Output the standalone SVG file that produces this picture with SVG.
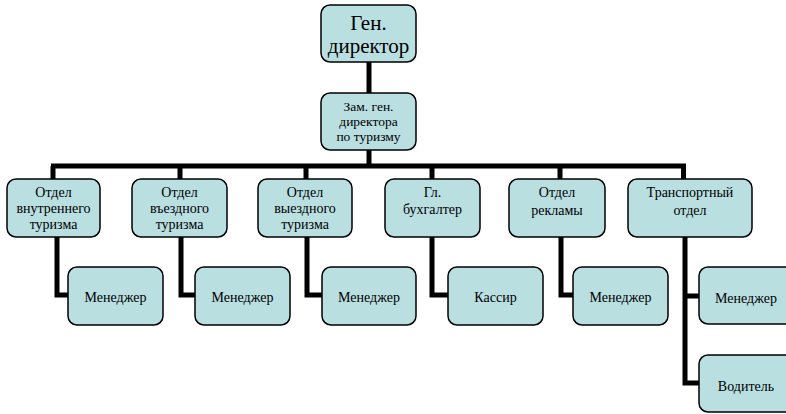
<svg xmlns="http://www.w3.org/2000/svg" width="786" height="414" viewBox="0 0 786 414">
  <defs>
    <style>
      .box { fill: #b9dfe1; stroke: #000; stroke-width: 1.5; }
      .wire { fill: none; stroke: #000; stroke-width: 5; stroke-linejoin: miter; }
      svg text, g text, text.t { font-family: "Liberation Serif", serif !important; fill: #000; text-anchor: middle; }
    </style>
  </defs>
  <rect width="786" height="414" fill="#fff"/>

  <g id="connectors">
    <line class="wire" x1="369" y1="62" x2="369" y2="93"/>
    <line class="wire" x1="369" y1="150" x2="369" y2="166"/>
    <line class="wire" x1="51" y1="166" x2="686" y2="166"/>
    <line class="wire" x1="53" y1="166" x2="53" y2="179"/>
    <line class="wire" x1="180" y1="166" x2="180" y2="179"/>
    <line class="wire" x1="306" y1="166" x2="306" y2="179"/>
    <line class="wire" x1="432" y1="166" x2="432" y2="179"/>
    <line class="wire" x1="560" y1="166" x2="560" y2="179"/>
    <line class="wire" x1="683.5" y1="166" x2="683.5" y2="179"/>
    <path class="wire" d="M57,237 V295 H68"/>
    <path class="wire" d="M181,237 V295 H195"/>
    <path class="wire" d="M307,237 V295 H322"/>
    <path class="wire" d="M432,237 V295 H448"/>
    <path class="wire" d="M561,237 V295 H573"/>
    <path class="wire" d="M685,237 V383 H699 M685,296 H699"/>
  </g>

  <g id="gen-director">
    <rect class="box" x="321" y="5" width="95" height="57" rx="9"/>
    <text class="t" style="font-family:'Liberation Serif',serif !important" font-size="21" x="368.5" y="30">Ген.</text>
    <text class="t" style="font-family:'Liberation Serif',serif !important" font-size="21" x="368.5" y="53">директор</text>
  </g>

  <g id="deputy">
    <rect class="box" x="321" y="93" width="95" height="57" rx="9"/>
    <text class="t" style="font-family:'Liberation Serif',serif !important" font-size="13.5" x="368.5" y="111">Зам. ген.</text>
    <text class="t" style="font-family:'Liberation Serif',serif !important" font-size="13.5" x="368.5" y="126">директора</text>
    <text class="t" style="font-family:'Liberation Serif',serif !important" font-size="13.5" x="368.5" y="141">по туризму</text>
  </g>

  <g id="dept-domestic">
    <rect class="box" x="7" y="179" width="93" height="58" rx="9"/>
    <text class="t" style="font-family:'Liberation Serif',serif !important" font-size="14" x="53.5" y="197">Отдел</text>
    <text class="t" style="font-family:'Liberation Serif',serif !important" font-size="14" x="53.5" y="213">внутреннего</text>
    <text class="t" style="font-family:'Liberation Serif',serif !important" font-size="14" x="53.5" y="229">туризма</text>
  </g>

  <g id="dept-inbound">
    <rect class="box" x="132" y="179" width="95" height="58" rx="9"/>
    <text class="t" style="font-family:'Liberation Serif',serif !important" font-size="14" x="179.5" y="197">Отдел</text>
    <text class="t" style="font-family:'Liberation Serif',serif !important" font-size="14" x="179.5" y="213">въездного</text>
    <text class="t" style="font-family:'Liberation Serif',serif !important" font-size="14" x="179.5" y="229">туризма</text>
  </g>

  <g id="dept-outbound">
    <rect class="box" x="258" y="179" width="94" height="58" rx="9"/>
    <text class="t" style="font-family:'Liberation Serif',serif !important" font-size="14" x="305" y="197">Отдел</text>
    <text class="t" style="font-family:'Liberation Serif',serif !important" font-size="14" x="305" y="213">выездного</text>
    <text class="t" style="font-family:'Liberation Serif',serif !important" font-size="14" x="305" y="229">туризма</text>
  </g>

  <g id="chief-accountant">
    <rect class="box" x="385" y="179" width="95" height="58" rx="9"/>
    <text class="t" style="font-family:'Liberation Serif',serif !important" font-size="14" x="432.5" y="197">Гл.</text>
    <text class="t" style="font-family:'Liberation Serif',serif !important" font-size="14" x="432.5" y="214">бухгалтер</text>
  </g>

  <g id="dept-advertising">
    <rect class="box" x="509" y="179" width="96" height="58" rx="9"/>
    <text class="t" style="font-family:'Liberation Serif',serif !important" font-size="14" x="557" y="197">Отдел</text>
    <text class="t" style="font-family:'Liberation Serif',serif !important" font-size="14" x="557" y="215">рекламы</text>
  </g>

  <g id="dept-transport">
    <rect class="box" x="628" y="179" width="124" height="58" rx="9"/>
    <text class="t" style="font-family:'Liberation Serif',serif !important" font-size="14" x="690" y="197">Транспортный</text>
    <text class="t" style="font-family:'Liberation Serif',serif !important" font-size="14" x="690" y="215">отдел</text>
  </g>

  <g id="manager-1">
    <rect class="box" x="68" y="267" width="95" height="58" rx="9"/>
    <text class="t" style="font-family:'Liberation Serif',serif !important" font-size="14" x="115.5" y="302">Менеджер</text>
  </g>
  <g id="manager-2">
    <rect class="box" x="195" y="267" width="95" height="58" rx="9"/>
    <text class="t" style="font-family:'Liberation Serif',serif !important" font-size="14" x="242.5" y="302">Менеджер</text>
  </g>
  <g id="manager-3">
    <rect class="box" x="322" y="267" width="94" height="58" rx="9"/>
    <text class="t" style="font-family:'Liberation Serif',serif !important" font-size="14" x="369" y="302">Менеджер</text>
  </g>
  <g id="cashier">
    <rect class="box" x="448" y="267" width="95" height="58" rx="9"/>
    <text class="t" style="font-family:'Liberation Serif',serif !important" font-size="14" x="495.5" y="302">Кассир</text>
  </g>
  <g id="manager-5">
    <rect class="box" x="573" y="267" width="95" height="58" rx="9"/>
    <text class="t" style="font-family:'Liberation Serif',serif !important" font-size="14" x="620.5" y="302">Менеджер</text>
  </g>
  <g id="manager-6">
    <rect class="box" x="699" y="267" width="100" height="57" rx="9"/>
    <text class="t" style="font-family:'Liberation Serif',serif !important" font-size="14" x="746" y="303">Менеджер</text>
  </g>
  <g id="driver">
    <rect class="box" x="699" y="355" width="100" height="57" rx="9"/>
    <text class="t" style="font-family:'Liberation Serif',serif !important" font-size="14" x="746" y="391">Водитель</text>
  </g>
</svg>
